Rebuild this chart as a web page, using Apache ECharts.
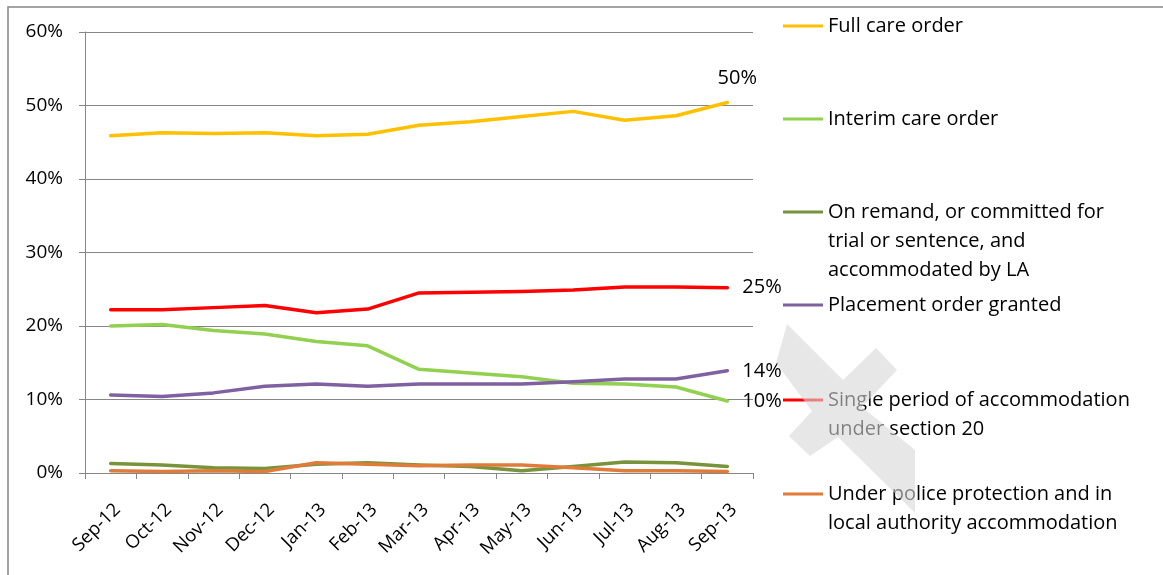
<!DOCTYPE html>
<html>
<head>
<meta charset="utf-8">
<script src="https://cdn.jsdelivr.net/npm/echarts@6/dist/echarts.min.js"></script>
<style>
  html, body { margin: 0; padding: 0; background: #fff; }
  #chart { width: 1163px; height: 575px; }
</style>
</head>
<body>
<div id="chart"></div>
<script>
// months
var months = ['Sep-12', 'Oct-12', 'Nov-12', 'Dec-12', 'Jan-13', 'Feb-13', 'Mar-13',
  'Apr-13', 'May-13', 'Jun-13', 'Jul-13', 'Aug-13', 'Sep-13']

// percentages
var fullCare = [45.9, 46.3, 46.2, 46.3, 45.9, 46.1, 47.3, 47.8, 48.5, 49.2, 48.0, 48.6, 50.4]
var interimCare = [20.0, 20.2, 19.4, 18.9, 17.9, 17.3, 14.1, 13.6, 13.1, 12.2, 12.1, 11.7, 9.8]
var onRemand = [1.3, 1.1, 0.7, 0.6, 1.2, 1.4, 1.1, 0.9, 0.3, 0.9, 1.5, 1.4, 0.9]
var placement = [10.6, 10.4, 10.9, 11.8, 12.1, 11.8, 12.1, 12.1, 12.1, 12.4, 12.8, 12.8, 13.9]
var section20 = [22.2, 22.2, 22.5, 22.8, 21.8, 22.3, 24.5, 24.6, 24.7, 24.9, 25.3, 25.3, 25.2]
var police = [0.3, 0.2, 0.3, 0.2, 1.4, 1.2, 1.0, 1.1, 1.1, 0.7, 0.3, 0.3, 0.2]

var yTicks = { min: 0, max: 60, interval: 10 }

var seriesNames = [
  'Full care order',
  'Interim care order',
  'On remand, or committed for\ntrial or sentence, and\naccommodated by LA',
  'Placement order granted',
  'Single period of accommodation\nunder section 20',
  'Under police protection and in\nlocal authority accommodation'
]
var seriesValues = [fullCare, interimCare, onRemand, placement, section20, police]
var seriesColors = ['#FFC000', '#92D050', '#77933C', '#7F60A0', '#FF0000', '#E07B39']
// which series get an end label, and where
var endLabels = [
  { position: 'top', distance: 14, offset: [10, 0] },
  { position: 'right', distance: 15 },
  null,
  { position: 'right', distance: 15 },
  { position: 'right', distance: 15 },
  null
]
// legend layout (first-line centre y)
var legendY = [26, 119, 212, 305, 400, 494]

var font = '"Open Sans", Lato, sans-serif'
var chart = echarts.init(document.getElementById('chart'))

var series = seriesValues.map(function (vals, si) {
  var last = vals.length - 1
  return {
    name: seriesNames[si],
    type: 'line',
    symbol: 'circle',
    symbolSize: 0,
    showSymbol: true,
    lineStyle: { width: 3.5, color: seriesColors[si], join: 'round', cap: 'round' },
    itemStyle: { color: seriesColors[si] },
    z: 2 + si,
    data: vals.map(function (v, i) {
      if (i === last && endLabels[si]) {
        return {
          value: v,
          label: Object.assign({
            show: true,
            color: '#000',
            fontSize: 20,
            fontFamily: font,
            formatter: function (p) { return Math.round(p.value) + '%' }
          }, endLabels[si])
        }
      }
      return v
    })
  }
})

var legendGraphics = []
seriesNames.forEach(function (name, i) {
  legendGraphics.push({
    type: 'line',
    shape: { x1: 783, y1: legendY[i], x2: 823, y2: legendY[i] },
    style: { stroke: seriesColors[i], lineWidth: 3 },
    z: 10
  })
  legendGraphics.push({
    type: 'text',
    x: 828,
    y: legendY[i] - 14.5,
    style: {
      text: name,
      fill: '#000',
      font: '20px ' + font,
      lineHeight: 29,
      verticalAlign: 'top'
    },
    z: 10
  })
})

// grey cross overlay in the picture
var cross = {
  type: 'polygon',
  shape: {
    points: [[787, 324], [843, 380], [876, 348], [897, 370], [862, 407], [915, 450],
      [915, 513], [838, 437], [810, 456], [789, 436], [812, 411], [776, 363]]
  },
  style: { fill: 'rgba(215,215,215,0.6)' },
  z: 20
}

chart.setOption({
  animation: false,
  textStyle: { fontFamily: font },
  grid: { left: 85, right: 410, top: 32, bottom: 102 },
  xAxis: {
    type: 'category',
    data: months,
    boundaryGap: true,
    axisLine: { lineStyle: { color: '#868686', width: 1 } },
    axisTick: { show: true, length: 6, lineStyle: { color: '#868686' } },
    axisLabel: {
      rotate: 45, fontSize: 18.5, color: '#000', margin: 27, interval: 0,
      verticalAlign: 'top'
    }
  },
  yAxis: {
    type: 'value',
    min: yTicks.min,
    max: yTicks.max,
    interval: yTicks.interval,
    axisLine: { show: true, lineStyle: { color: '#868686', width: 1 } },
    axisTick: { show: true, length: 6, lineStyle: { color: '#868686' } },
    axisLabel: { formatter: '{value}%', fontSize: 19, color: '#000', margin: 22 },
    splitLine: { lineStyle: { color: '#868686', width: 1 } }
  },
  series: series,
  graphic: [
    {
      type: 'rect',
      shape: { x: 8, y: 7, width: 1200, height: 620 },
      style: { fill: 'none', stroke: '#868686', lineWidth: 1.5 },
      silent: true
    }
  ].concat(legendGraphics, [cross])
})
</script>
</body>
</html>
